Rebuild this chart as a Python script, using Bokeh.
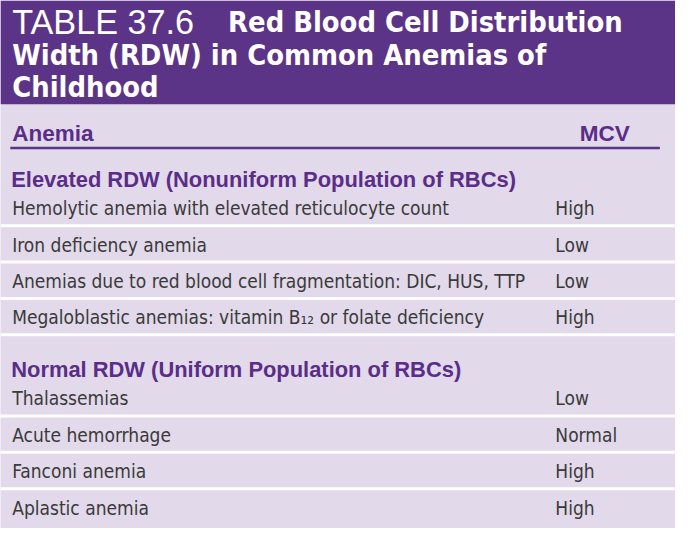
from bokeh.plotting import figure
from bokeh.models import ColumnDataSource
from bokeh.embed import file_html
from bokeh.resources import INLINE

# table content
table_no = "TABLE 37.6"
title_lines = ["Red Blood Cell Distribution",
               "Width (RDW) in Common Anemias of",
               "Childhood"]
col_headers = ["Anemia", "MCV"]
group_names = ["Elevated RDW (Nonuniform Population of RBCs)",
               "Normal RDW (Uniform Population of RBCs)"]
elevated_anemias = ["Hemolytic anemia with elevated reticulocyte count",
                    "Iron deficiency anemia",
                    "Anemias due to red blood cell fragmentation: DIC, HUS, TTP",
                    "Megaloblastic anemias: vitamin B\u2081\u2082 or folate deficiency"]
elevated_mcv = ["High", "Low", "Low", "High"]
normal_anemias = ["Thalassemias", "Acute hemorrhage", "Fanconi anemia", "Aplastic anemia"]
normal_mcv = ["Low", "Normal", "High", "High"]

# colours
purple = "#5c3487"
lavender = "#e2d9ea"
head_purple = "#5a2d89"
body_grey = "#3a3a3a"

W, H = 691, 544
S = 675 / W
def fs(px):
    return "%.1fpx" % (px * S)

cond = {"value": "DejaVu Sans Condensed"}
sans = {"value": "Liberation Sans"}

p = figure(width=675, height=528, x_range=(0, W), y_range=(H, 0),
           toolbar_location=None, output_backend="svg", min_border=0,
           background_fill_color=lavender, border_fill_color=lavender)
p.axis.visible = False
p.grid.visible = False
p.outline_line_color = None

# title band
band_h = 107
p.quad(left=0, right=W, top=0, bottom=band_h, fill_color=purple, line_color=None)
line_y = [22, 56, 89]
p.text(x=[12], y=[line_y[0]], text=[table_no], text_font=sans,
       text_font_size=fs(35), text_color="white", text_baseline="middle")
p.text(x=[233, 12, 12], y=line_y, text=title_lines, text_font=cond,
       text_font_style="bold", text_font_size=fs(29.5), text_color="white",
       text_baseline="middle")

# column headers
p.text(x=[12, 593], y=[137, 137], text=col_headers, text_font=sans,
       text_font_style="bold", text_font_size=fs(23), text_color=head_purple,
       text_baseline="middle")
p.segment(x0=[10], y0=[152], x1=[675], y1=[152], line_color=purple, line_width=2.5)

# groups of rows
pitch = 37.5
group_y = [184, 380]
for gy, name, anemias, mcv in zip(group_y, group_names,
                                  [elevated_anemias, normal_anemias],
                                  [elevated_mcv, normal_mcv]):
    p.text(x=[11], y=[gy], text=[name], text_font=sans,
           text_font_style="bold", text_font_size=fs(22.4), text_color=head_purple,
           text_baseline="middle")
    ys = [gy + 30 + i * pitch for i in range(len(anemias))]
    src = ColumnDataSource(dict(y=ys, anemia=anemias, mcv=mcv))
    p.text(x=12, y="y", text="anemia", source=src, text_font=cond,
           text_font_size=fs(19.5), text_color=body_grey, text_baseline="middle")
    p.text(x=568, y="y", text="mcv", source=src, text_font=cond,
           text_font_size=fs(19.5), text_color=body_grey, text_baseline="middle")
    n_sep = len(anemias) if gy == group_y[0] else len(anemias) - 1
    sep_y = [y + 18 for y in ys[:n_sep]]
    p.segment(x0=0, y0=sep_y, x1=W, y1=sep_y, line_color="white", line_width=3)

open("out.html", "w").write(file_html(p, INLINE))
